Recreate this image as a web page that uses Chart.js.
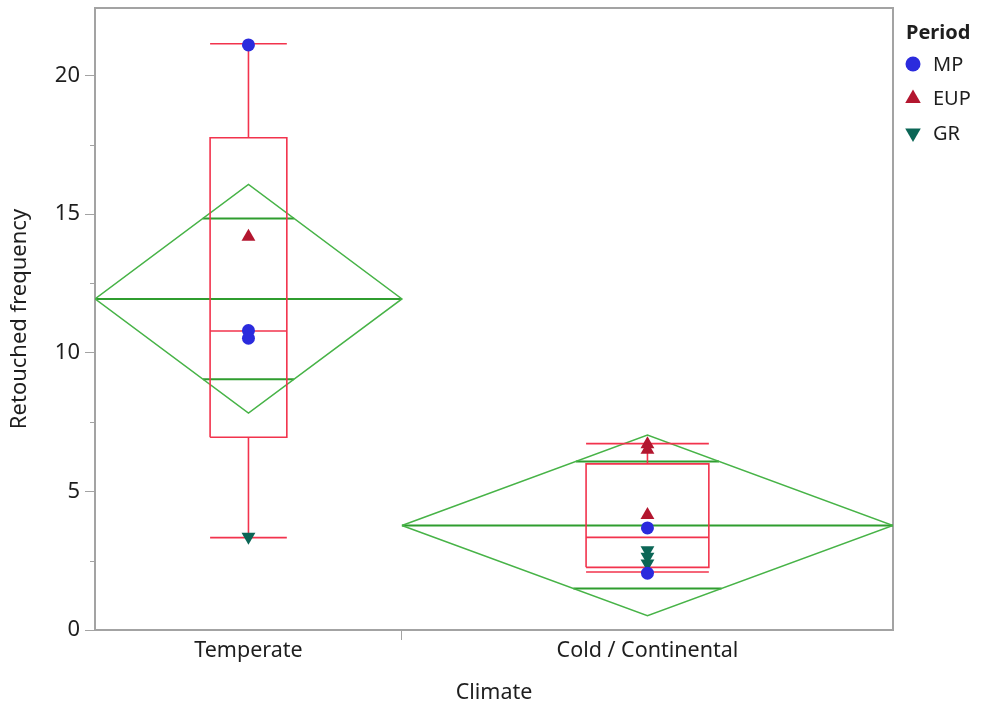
<!DOCTYPE html>
<html>
<head>
<meta charset="utf-8">
<script src="https://cdn.jsdelivr.net/npm/chart.js@4/dist/chart.umd.min.js"></script>
<style>
  html, body { margin: 0; padding: 0; background: #fff; }
</style>
</head>
<body>
<canvas id="c" width="982" height="709"></canvas>
<script>
// Oneway: Retouched frequency by Climate (box plots + means diamonds)
const climates = ['Temperate', 'Cold / Continental'];
const groupN = [5, 8];              // band width follows group size

// raw points, one list per climate
const mpVals  = [[21.1, 10.8, 10.52], [3.68, 2.05]];
const eupVals = [[14.18], [6.7, 6.5, 4.15]];
const grVals  = [[3.36], [2.88, 2.64, 2.4]];

// box plot: min, q1, median, q3, max
const boxStats = [[3.33, 6.95, 10.78, 17.75, 21.14], [2.09, 2.26, 3.34, 5.99, 6.72]];
// means diamond: lower 95%, mean, upper 95%
const diamondStats = [[7.82, 11.94, 16.07], [0.52, 3.77, 7.03]];
// overlap marks: lower, upper
const overlapMarks = [[9.04, 14.84], [1.50, 6.08]];

const yTicks = [0, 5, 10, 15, 20];
const yMinorTicks = [2.5, 7.5, 12.5, 17.5];
const yMax = 22.43;

const periods = ['MP', 'EUP', 'GR'];

const FONT = '"Noto Sans", "Open Sans", sans-serif';
const TXT = '#1e1e1e';
const AXIS = '#a3a3a3';
const RED = '#f2334d';
const GREEN = '#47b347';
const GREEN_D = '#2f9d2f';
const STYLE = {
  MP:  { color: '#2b2bdd', pointStyle: 'circle',   rotation: 0,   radius: 6.5 },
  EUP: { color: '#b3162f', pointStyle: 'triangle', rotation: 0,   radius: 8 },
  GR:  { color: '#0b6656', pointStyle: 'triangle', rotation: 180, radius: 8 }
};

// band geometry on a linear x axis (0 .. sum of n)
const bandStart = groupN.map((n, i) => groupN.slice(0, i).reduce((a, b) => a + b, 0));
const bandCenter = groupN.map((n, i) => bandStart[i] + n / 2);
const xMax = groupN.reduce((a, b) => a + b, 0);

function seg(data, color, width, order) {
  return { type: 'line', data, borderColor: color, borderWidth: width, pointRadius: 0,
           pointHoverRadius: 0, fill: false, tension: 0, order };
}

const datasets = [];

// points (on top)
const ptsByPeriod = { MP: mpVals, EUP: eupVals, GR: grVals };
periods.forEach(p => {
  const s = STYLE[p];
  const data = [];
  ptsByPeriod[p].forEach((vals, i) => vals.forEach(v => data.push({ x: bandCenter[i], y: v })));
  datasets.push({
    type: 'scatter', label: p, data,
    pointStyle: s.pointStyle, rotation: s.rotation, radius: s.radius,
    backgroundColor: s.color, borderColor: s.color, borderWidth: 0, order: 0
  });
});

climates.forEach((c, i) => {
  const x0 = bandStart[i], x1 = bandStart[i] + groupN[i], xc = bandCenter[i];
  const hw = groupN[i] * 0.125;
  const [mn, q1, md, q3, mx] = boxStats[i];
  // box
  datasets.push(seg([{x: xc - hw, y: q1}, {x: xc + hw, y: q1}, {x: xc + hw, y: q3}, {x: xc - hw, y: q3}, {x: xc - hw, y: q1}], RED, 1.6, 1));
  datasets.push(seg([{x: xc - hw, y: md}, {x: xc + hw, y: md}], RED, 1.6, 1));
  datasets.push(seg([{x: xc, y: q3}, {x: xc, y: mx}], RED, 1.6, 1));
  datasets.push(seg([{x: xc, y: mn}, {x: xc, y: q1}], RED, 1.6, 1));
  datasets.push(seg([{x: xc - hw, y: mx}, {x: xc + hw, y: mx}], RED, 1.6, 1));
  datasets.push(seg([{x: xc - hw, y: mn}, {x: xc + hw, y: mn}], RED, 1.6, 1));

  // means diamond
  const [lo, mean, hi] = diamondStats[i];
  datasets.push(seg([{x: x0, y: mean}, {x: xc, y: hi}, {x: x1, y: mean}, {x: xc, y: lo}, {x: x0, y: mean}], GREEN, 1.5, 2));
  datasets.push(seg([{x: x0, y: mean}, {x: x1, y: mean}], GREEN_D, 2, 2));
  overlapMarks[i].forEach(m => {
    const half = groupN[i] / 2;
    const w = half * (1 - Math.abs(m - mean) / (m > mean ? hi - mean : mean - lo));
    datasets.push(seg([{x: xc - w, y: m}, {x: xc + w, y: m}], GREEN_D, 2, 2));
  });
});

// frame, minor ticks and Period legend
const extras = {
  id: 'extras',
  beforeDatasetsDraw(chart) {
    const { ctx, chartArea: a } = chart;
    ctx.save();
    ctx.strokeStyle = AXIS;
    ctx.lineWidth = 2;
    ctx.strokeRect(a.left, a.top, a.right - a.left, a.bottom - a.top);
    const y = chart.scales.y;
    ctx.beginPath();
    yMinorTicks.forEach(v => {
      const py = Math.round(y.getPixelForValue(v)) + 0.5;
      ctx.moveTo(a.left - 5, py);
      ctx.lineTo(a.left, py);
    });
    ctx.lineWidth = 1;
    ctx.stroke();
    ctx.restore();
  },
  afterDraw(chart) {
    const { ctx } = chart;
    ctx.save();
    ctx.fillStyle = TXT;
    ctx.textBaseline = 'middle';
    ctx.textAlign = 'left';
    ctx.font = 'bold 20px ' + FONT;
    ctx.fillText('Period', 906, 33);
    ctx.font = '20px ' + FONT;
    periods.forEach((p, i) => {
      const s = STYLE[p];
      const yy = 64 + i * 34.5;
      ctx.fillStyle = s.color;
      ctx.strokeStyle = s.color;
      Chart.helpers.drawPoint(ctx, { pointStyle: s.pointStyle, rotation: s.rotation, radius: s.radius + 1, borderWidth: 0 }, 913, yy);
      ctx.fillStyle = TXT;
      ctx.fillText(p, 933, yy + 1);
    });
    ctx.restore();
  }
};

new Chart(document.getElementById('c'), {
  type: 'scatter',
  data: { datasets },
  plugins: [extras],
  options: {
    responsive: false,
    animation: false,
    devicePixelRatio: 1,
    layout: { autoPadding: false, padding: { left: 0, top: 8, right: 89, bottom: 0 } },
    plugins: { legend: { display: false }, tooltip: { enabled: false } },
    scales: {
      x: {
        type: 'linear', min: 0, max: xMax,
        afterFit: s => { s.height = 79; s.paddingLeft = 0; s.paddingRight = 0; },
        afterBuildTicks: s => { s.ticks = [{ value: bandCenter[0] }, { value: bandStart[1] }, { value: bandCenter[1] }]; },
        border: { display: false },
        grid: {
          drawOnChartArea: false, tickLength: 10,
          tickColor: ctx => (ctx.tick && ctx.tick.value === bandStart[1]) ? AXIS : 'rgba(0,0,0,0)'
        },
        ticks: {
          autoSkip: false, maxRotation: 0, padding: -2, color: TXT,
          font: { family: FONT, size: 21.5 },
          callback: v => { const i = bandCenter.indexOf(v); return i >= 0 ? climates[i] : ''; }
        },
        title: { display: true, text: 'Climate', color: TXT, font: { family: FONT, size: 21.5 }, padding: { top: 0, bottom: 3 } }
      },
      y: {
        type: 'linear', min: 0, max: yMax,
        afterFit: s => { s.width = 95; s.paddingTop = 0; s.paddingBottom = 0; },
        afterBuildTicks: s => { s.ticks = yTicks.map(v => ({ value: v })); },
        border: { display: false },
        grid: { drawOnChartArea: false, tickLength: 10, color: AXIS },
        ticks: { padding: 5, color: TXT, font: { family: FONT, size: 22 } },
        title: { display: true, text: 'Retouched frequency', color: TXT, font: { family: FONT, size: 22 }, padding: { top: 7, bottom: 0 } }
      }
    }
  }
});
</script>
</body>
</html>
